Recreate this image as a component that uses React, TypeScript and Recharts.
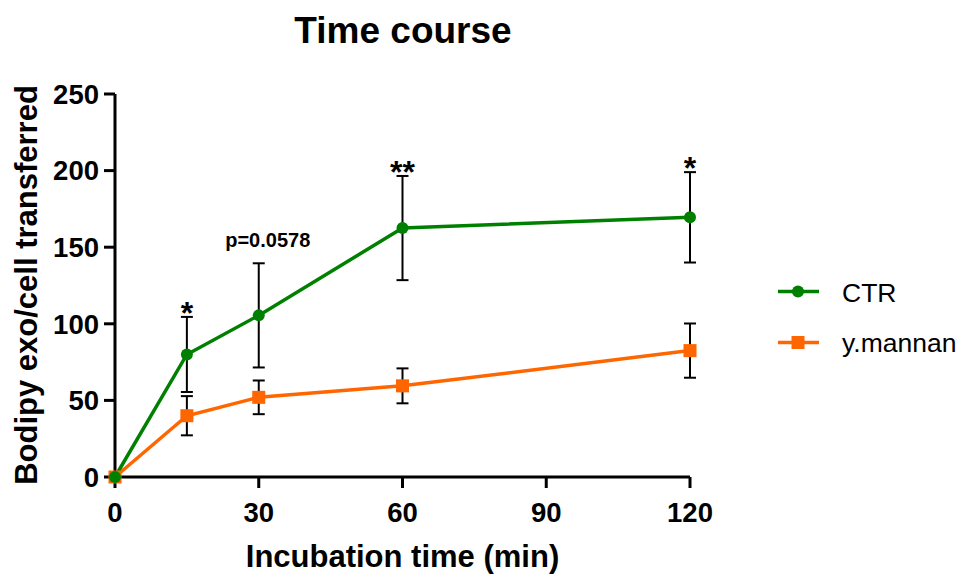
import React from 'react';
import { LineChart, Line, XAxis, YAxis, ErrorBar, ReferenceDot, Legend } from 'recharts';

const times = [0, 15, 30, 60, 120];
const ctrMean = [0, 80, 105.5, 162.5, 169.5];
const ctrErr = [0, 24.5, 34, 34, 29.5];
const mannanMean = [0, 40, 52, 59.5, 82.5];
const mannanErr = [0, 12.8, 11, 11.4, 17.7];
const xTicks = [0, 30, 60, 90, 120];
const yTicks = [0, 50, 100, 150, 200, 250];
const seriesNames = ['CTR', 'y.mannan'];
const annotationTimes = [15, 30, 60, 120];
const annotationTexts = ['*', 'p=0.0578', '**', '*'];

const GREEN = '#008000';
const ORANGE = '#FF6600';
const FONT = '"Liberation Sans", Arial, sans-serif';

const data = times.map((t, i) => ({
  t,
  ctr: ctrMean[i],
  ctrErr: ctrErr[i],
  mannan: mannanMean[i],
  mannanErr: mannanErr[i],
}));

const annotationStyle: Record<string, { size: number; dx: number; dy: number }> = {
  '*': { size: 32, dx: 0, dy: 7 },
  '**': { size: 32, dx: 0, dy: 7 },
  'p=0.0578': { size: 20, dx: 9, dy: -16 },
};

const SquareDot = (props: any) => {
  const { cx, cy } = props;
  if (cx == null || cy == null) return null;
  return <rect x={cx - 6.5} y={cy - 6.5} width={13} height={13} fill={ORANGE} />;
};

const LegendContent = () => (
  <svg width={192} height={110} style={{ display: 'block' }}>
    <line x1={8} y1={31.5} x2={49} y2={31.5} stroke={GREEN} strokeWidth={3.5} />
    <circle cx={28} cy={31.5} r={6} fill={GREEN} />
    <text x={72} y={41.5} fontFamily={FONT} fontSize={26.5} fill="#000">{seriesNames[0]}</text>
    <line x1={8} y1={82.5} x2={49} y2={82.5} stroke={ORANGE} strokeWidth={3.5} />
    <rect x={21.5} y={76} width={13} height={13} fill={ORANGE} />
    <text x={72} y={91.5} fontFamily={FONT} fontSize={26.5} fill="#000">{seriesNames[1]}</text>
  </svg>
);

export default function App() {
  return (
    <div style={{ position: 'absolute', left: 0, top: 0, width: 962, height: 574, background: '#fff', fontFamily: FONT }}>
      <LineChart
        width={962}
        height={574}
        data={data}
        margin={{ top: 94, right: 272, bottom: 37, left: 55 }}
      >
        <XAxis
          dataKey="t"
          type="number"
          domain={[0, 120]}
          ticks={xTicks}
          interval={0}
          height={60}
          axisLine={{ stroke: '#000', strokeWidth: 3 }}
          tickLine={{ stroke: '#000', strokeWidth: 3 }}
          tickSize={11}
          tickMargin={14}
          tick={{ fill: '#000', fontSize: 27.5, fontWeight: 'bold', fontFamily: FONT }}
        />
        <YAxis
          type="number"
          domain={[0, 250]}
          ticks={yTicks}
          interval={0}
          width={60}
          axisLine={{ stroke: '#000', strokeWidth: 3 }}
          tickLine={{ stroke: '#000', strokeWidth: 3 }}
          tickSize={11}
          tickMargin={5}
          tick={{ fill: '#000', fontSize: 27.5, fontWeight: 'bold', fontFamily: FONT }}
        />
        <Legend
          layout="horizontal"
          verticalAlign="middle"
          align="center"
          wrapperStyle={{ left: 770, top: 260, width: 192, height: 110 }}
          content={LegendContent}
        />
        <Line
          dataKey="mannan"
          name={seriesNames[1]}
          stroke={ORANGE}
          strokeWidth={3.5}
          dot={SquareDot}
          activeDot={false}
          isAnimationActive={false}
        >
          <ErrorBar dataKey="mannanErr" direction="y" width={6} stroke="#000" strokeWidth={2} isAnimationActive={false} />
        </Line>
        <Line
          dataKey="ctr"
          name={seriesNames[0]}
          stroke={GREEN}
          strokeWidth={3.5}
          dot={{ r: 6, fill: GREEN, stroke: GREEN, strokeWidth: 0 }}
          activeDot={false}
          isAnimationActive={false}
        >
          <ErrorBar dataKey="ctrErr" direction="y" width={6} stroke="#000" strokeWidth={2} isAnimationActive={false} />
        </Line>
        {annotationTimes.map((t, i) => {
          const idx = times.indexOf(t);
          const txt = annotationTexts[i];
          const st = annotationStyle[txt];
          return (
            <ReferenceDot
              key={i}
              x={t}
              y={ctrMean[idx] + ctrErr[idx]}
              r={0}
              fill="none"
              stroke="none"
              label={(p: any) => {
                const vb = p.viewBox || {};
                const cx = (vb.x ?? 0) + (vb.width ?? 0) / 2;
                const cy = (vb.y ?? 0) + (vb.height ?? 0) / 2;
                return (
                  <text
                    x={cx + st.dx}
                    y={cy + st.dy}
                    textAnchor="middle"
                    fontFamily={FONT}
                    fontWeight="bold"
                    fontSize={st.size}
                    fill="#000"
                  >
                    {txt}
                  </text>
                );
              }}
            />
          );
        })}
      </LineChart>
      <svg width={962} height={574} style={{ position: 'absolute', left: 0, top: 0, pointerEvents: 'none' }}>
        <text x={403} y={43} textAnchor="middle" fontFamily={FONT} fontWeight="bold" fontSize={37} fill="#000">Time course</text>
        <text x={402.5} y={567} textAnchor="middle" fontFamily={FONT} fontWeight="bold" fontSize={31} fill="#000">Incubation time (min)</text>
        <text transform="translate(37,285) rotate(-90)" textAnchor="middle" fontFamily={FONT} fontWeight="bold" fontSize={31} fill="#000">Bodipy exo/cell transferred</text>
      </svg>
    </div>
  );
}
